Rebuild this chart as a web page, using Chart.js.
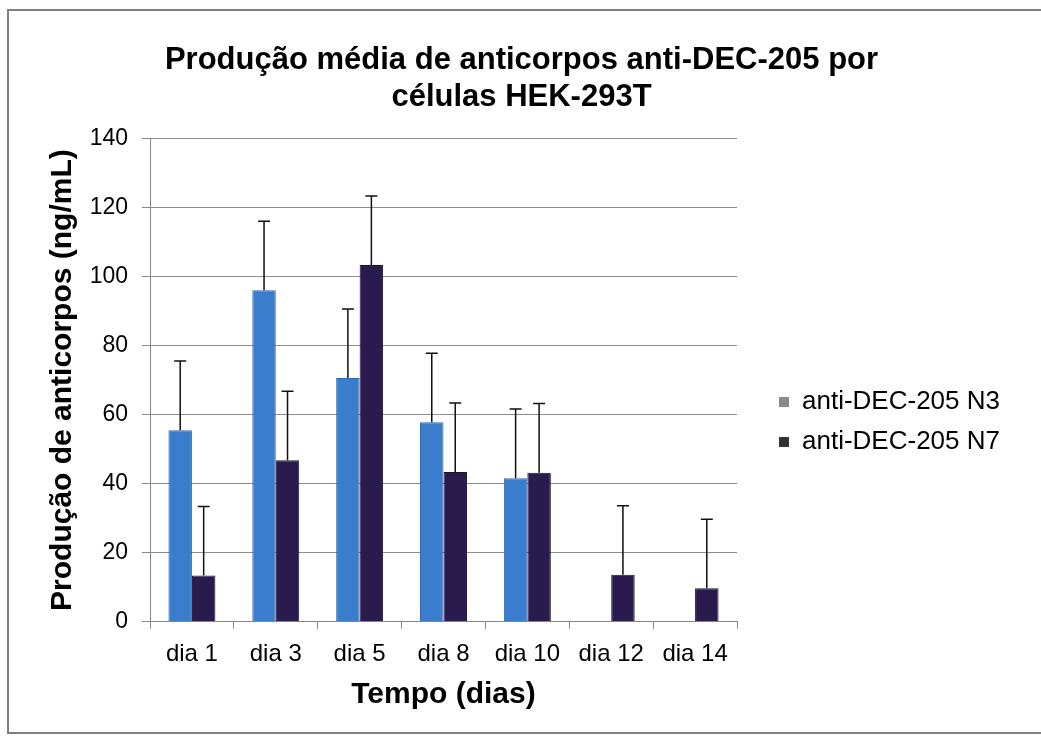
<html>
<head>
<script src="https://cdn.jsdelivr.net/npm/chart.js@4/dist/chart.umd.min.js"></script>
<style>
  body { margin: 0; background: white; }
  #wrap { width: 1041px; height: 736px; }
</style>
</head>
<body>
<div id="wrap"><canvas id="anticorpos"></canvas></div>
<script>
  // valores
  var dias = ["dia 1", "dia 3", "dia 5", "dia 8", "dia 10", "dia 12", "dia 14"];
  var mediaN3 = [55.5, 96, 70.6, 57.8, 41.6, null, null];
  var mediaN7 = [13.4, 46.8, 103.3, 43.4, 43.2, 13.6, 9.7];
  var erroN3 = [20, 20, 20, 20, 20, 0, 0];
  var erroN7 = [20, 20, 20, 20, 20, 20, 20];
  var yTicks = [0, 20, 40, 60, 80, 100, 120, 140];

  var fonte = "'Liberation Sans', Arial, sans-serif";

  // barras de erro (so para cima)
  var errorBars = {
    id: "errorBars",
    afterDatasetsDraw: function(chart) {
      var ctx = chart.ctx;
      var y = chart.scales.y;
      var erros = [erroN3, erroN7];
      ctx.save();
      ctx.strokeStyle = "#111";
      ctx.lineWidth = 1.5;
      chart.data.datasets.forEach(function(ds, i) {
        var meta = chart.getDatasetMeta(i);
        meta.data.forEach(function(bar, j) {
          var v = ds.data[j];
          if (v == null) return;
          var top = y.getPixelForValue(v + erros[i][j]);
          ctx.beginPath();
          ctx.moveTo(bar.x, bar.y);
          ctx.lineTo(bar.x, top);
          ctx.moveTo(bar.x - 6, top);
          ctx.lineTo(bar.x + 6, top);
          ctx.stroke();
        });
      });
      ctx.restore();
    }
  };

  // legenda e titulo um pouco deslocados
  var ajustes = {
    id: "ajustes",
    afterLayout: function(chart) {
      var lg = chart.legend;
      lg.top += 44; lg.bottom += 44;
      lg.left += 28; lg.right += 28;
      var t = chart.titleBlock;
      t.left += 11; t.right += 11;
    }
  };

  // moldura em volta
  var moldura = {
    id: "moldura",
    afterDraw: function(chart) {
      var ctx = chart.ctx;
      ctx.save();
      ctx.strokeStyle = "#808080";
      ctx.lineWidth = 2;
      ctx.strokeRect(8, 10, 1045, 723);
      ctx.restore();
    }
  };

  new Chart(document.getElementById("anticorpos"), {
    type: "bar",
    data: {
      labels: dias,
      datasets: [
        { label: "anti-DEC-205 N3", data: mediaN3, backgroundColor: "#3a7dcc", borderColor: "#2f68ad", borderWidth: 1 },
        { label: "anti-DEC-205 N7", data: mediaN7, backgroundColor: "#2a1b4f", borderColor: "#1e1238", borderWidth: 1 }
      ]
    },
    options: {
      responsive: true,
      maintainAspectRatio: false,
      animation: false,
      categoryPercentage: 0.56,
      barPercentage: 1.0,
      layout: { padding: { top: 42, left: 41, right: 61, bottom: 22 } },
      plugins: {
        title: {
          display: true,
          text: ["Produção média de anticorpos anti-DEC-205 por", "células HEK-293T"],
          color: "#000",
          font: { family: fonte, size: 31, weight: "bold", lineHeight: 1.2 },
          padding: { top: 0, bottom: 22 }
        },
        legend: {
          position: "right",
          maxWidth: 243,
          labels: {
            color: "#000",
            font: { family: fonte, size: 26 },
            boxWidth: 10,
            boxHeight: 10,
            padding: 14,
            generateLabels: function(chart) {
              var cores = ["#8a8a8a", "#333333"];
              return chart.data.datasets.map(function(ds, i) {
                return { text: ds.label, fillStyle: cores[i], strokeStyle: cores[i], lineWidth: 0, datasetIndex: i };
              });
            }
          }
        },
        tooltip: { enabled: false }
      },
      scales: {
        x: {
          offset: true,
          grid: { offset: true, drawOnChartArea: false, drawTicks: true, tickLength: 7, color: "#888" },
          border: { color: "#888" },
          ticks: { color: "#000", font: { family: fonte, size: 24, lineHeight: 0.8 }, padding: 16 },
          title: { display: true, text: "Tempo (dias)", color: "#000", font: { family: fonte, size: 30, weight: "bold", lineHeight: 1.0 }, padding: { top: 0, bottom: 4 } }
        },
        y: {
          min: 0,
          max: 140,
          afterFit: function(axis) { axis.width = 109; },
          afterBuildTicks: function(axis) {
            axis.ticks = yTicks.map(function(v) { return { value: v }; });
          },
          grid: { color: "#8c8c8c", tickLength: 8 },
          border: { color: "#888" },
          ticks: { color: "#000", font: { family: fonte, size: 23 }, padding: 14 },
          title: { display: true, text: "Produção de anticorpos (ng/mL)", color: "#000", font: { family: fonte, size: 30, weight: "bold" }, padding: { top: 4, bottom: 4 } }
        }
      }
    },
    plugins: [errorBars, ajustes, moldura]
  });
</script>
</body>
</html>
